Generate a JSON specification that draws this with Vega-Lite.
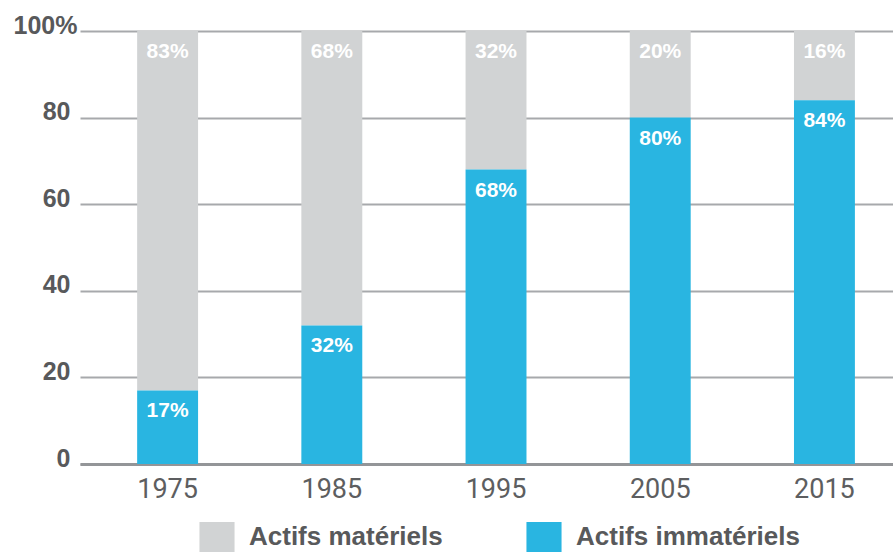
{
  "$schema": "https://vega.github.io/schema/vega-lite/v6.json",
  "width": 813,
  "height": 433,
  "autosize": "none",
  "padding": {"left": 80, "top": 31, "right": 0, "bottom": 88},
  "background": "white",
  "config": {
    "view": {"stroke": null},
    "font": "Liberation Sans"
  },
  "data": {
    "values": [
      {"year": "1975", "type": "Actifs matériels", "value": 83},
      {"year": "1975", "type": "Actifs immatériels", "value": 17},
      {"year": "1985", "type": "Actifs matériels", "value": 68},
      {"year": "1985", "type": "Actifs immatériels", "value": 32},
      {"year": "1995", "type": "Actifs matériels", "value": 32},
      {"year": "1995", "type": "Actifs immatériels", "value": 68},
      {"year": "2005", "type": "Actifs matériels", "value": 20},
      {"year": "2005", "type": "Actifs immatériels", "value": 80},
      {"year": "2015", "type": "Actifs matériels", "value": 16},
      {"year": "2015", "type": "Actifs immatériels", "value": 84}
    ]
  },
  "transform": [
    {"stack": "value", "groupby": ["year"], "sort": [{"field": "type", "order": "ascending"}], "as": ["v0", "v1"]},
    {"calculate": "datum.value + '%'", "as": "label"}
  ],
  "encoding": {
    "x": {
      "field": "year",
      "type": "nominal",
      "title": null,
      "scale": {"paddingInner": 0.629, "paddingOuter": 0.29, "align": 0.6},
      "axis": {
        "labelAngle": 0,
        "labelFont": "Roboto",
        "labelFontSize": 27,
        "labelColor": "#5d5e60",
        "labelPadding": 12,
        "ticks": false,
        "domainColor": "#939598",
        "domainWidth": 3
      }
    }
  },
  "layer": [
    {
      "mark": {"type": "bar"},
      "encoding": {
        "y": {
          "field": "v1",
          "type": "quantitative",
          "scale": {"domain": [0, 100]},
          "title": null,
          "axis": {
            "values": [0, 20, 40, 60, 80, 100],
            "labelExpr": "datum.value == 100 ? '100%' : datum.label",
            "labelFontSize": 25,
            "labelFontWeight": "bold",
            "labelColor": "#58595b",
            "labelPadding": {"condition": {"test": "datum.value == 100", "value": 3}, "value": 10},
            "labelOffset": -6,
            "ticks": false,
            "domain": false,
            "gridColor": "#a7a9ac",
            "gridWidth": 2
          }
        },
        "y2": {"field": "v0"},
        "color": {
          "field": "type",
          "type": "nominal",
          "scale": {"domain": ["Actifs matériels", "Actifs immatériels"], "range": ["#d1d3d4", "#29b5e1"]},
          "legend": {
            "title": null,
            "orient": "none",
            "direction": "horizontal",
            "legendX": 122,
            "legendY": 491,
            "symbolType": "M-1.17,-1H1.17V1H-1.17Z",
            "symbolSize": 900,
            "symbolStrokeWidth": 0,
            "symbolOpacity": 1,
            "labelFontSize": 26,
            "labelFontWeight": "bold",
            "labelColor": "#58595b",
            "labelOffset": 17,
            "columnPadding": 83,
            "labelLimit": 400
          }
        }
      }
    },
    {
      "mark": {"type": "text", "color": "white", "fontWeight": "bold", "fontSize": 21, "baseline": "middle", "dy": 21},
      "encoding": {
        "y": {"field": "v1", "type": "quantitative"},
        "text": {"field": "label"}
      }
    }
  ]
}
